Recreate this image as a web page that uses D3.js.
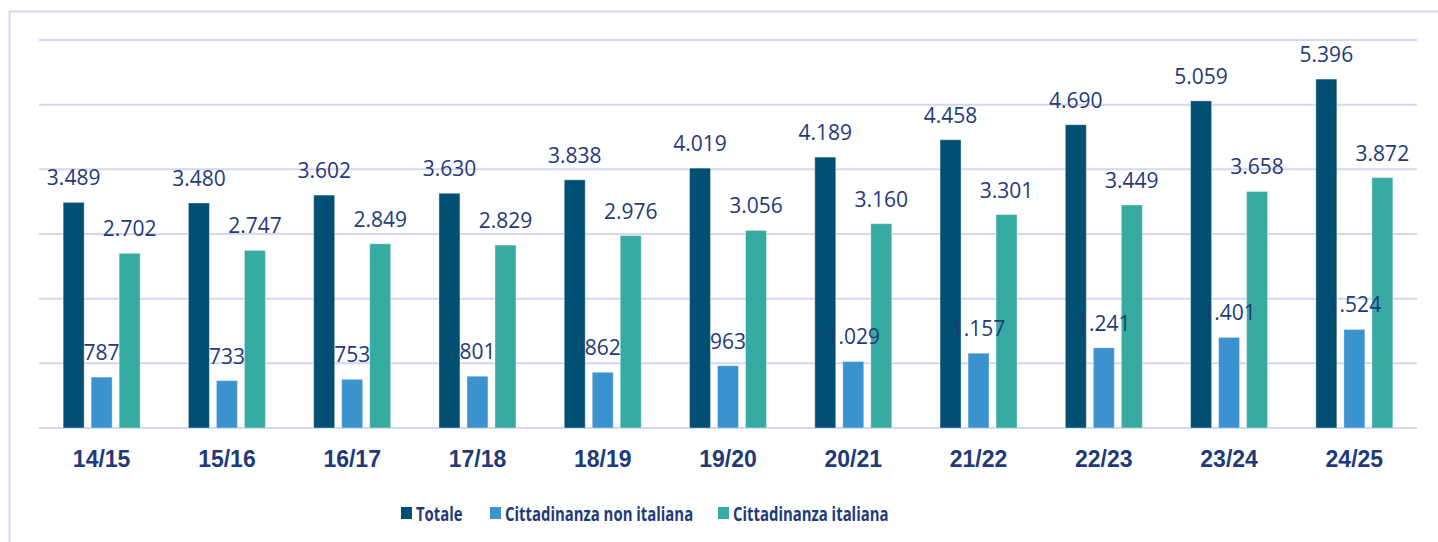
<!DOCTYPE html>
<meta charset="utf-8">
<style>
body { margin: 0; background: #fff; }
svg { display: block; font-family: "Open Sans", "Noto Sans", sans-serif; }
.grid line { stroke: #d8d5f0; stroke-width: 2; }
.val { fill: #1f3a7a; font-size: 21px; text-anchor: middle; }
.cat { fill: #1f3a7a; font-size: 23px; font-weight: bold; text-anchor: middle; }
.leg { fill: #1f3a7a; font-size: 20px; font-weight: bold; }
</style>
<svg width="1438" height="542"></svg>
<script src="https://cdnjs.cloudflare.com/ajax/libs/d3/7.8.5/d3.min.js"></script>
<script>

var anni = ["14/15", "15/16", "16/17", "17/18", "18/19", "19/20", "20/21", "21/22", "22/23", "23/24", "24/25"];
var serie = ["Totale", "Cittadinanza non italiana", "Cittadinanza italiana"];
var colori = ["#014f72", "#3a92cf", "#35aba1"];
var totale = [3489, 3480, 3602, 3630, 3838, 4019, 4189, 4458, 4690, 5059, 5396];
var nonItaliana = [787, 733, 753, 801, 862, 963, 1029, 1157, 1241, 1401, 1524];
var italiana = [2702, 2747, 2849, 2829, 2976, 3056, 3160, 3301, 3449, 3658, 3872];
var yTicks = [0, 1000, 2000, 3000, 4000, 5000, 6000];

var valori = [totale, nonItaliana, italiana];
var data = anni.map(function(a, i) {
  return { anno: a, vals: serie.map(function(s, j) { return { s: s, v: valori[j][i] }; }) };
});

var svg = d3.select("svg");
var fmt = d3.formatLocale({ decimal: ",", thousands: ".", grouping: [3], currency: ["", "€"] }).format(",");

// cornice esterna
svg.append("path")
  .attr("d", "M9.5,542 V11.5 H1438")
  .attr("fill", "none")
  .attr("stroke", "#d6d4f2")
  .attr("stroke-width", 2);

var x0 = d3.scaleBand().domain(anni).range([39, 1417]).padding(0);
var grp = 77;
var x1 = d3.scaleBand().domain(serie)
  .range([x0.bandwidth() / 2 - grp / 2, x0.bandwidth() / 2 + grp / 2])
  .paddingInner(0.25).paddingOuter(0);
var y = d3.scaleLinear().domain([0, 6000]).range([428, 40]);
var color = d3.scaleOrdinal().domain(serie).range(colori);

svg.append("g").attr("class", "grid")
  .selectAll("line").data(yTicks).enter().append("line")
  .attr("x1", 39).attr("x2", 1417)
  .attr("y1", function(d) { return y(d); })
  .attr("y2", function(d) { return y(d); });

var g = svg.selectAll(".gruppo").data(data).enter().append("g")
  .attr("class", "gruppo")
  .attr("transform", function(d) { return "translate(" + x0(d.anno) + ",0)"; });

g.selectAll("rect").data(function(d) { return d.vals; }).enter().append("rect")
  .attr("x", function(d) { return x1(d.s); })
  .attr("y", function(d) { return y(d.v); })
  .attr("width", x1.bandwidth())
  .attr("height", function(d) { return y(0) - y(d.v); })
  .attr("fill", function(d) { return color(d.s); })
  .attr("stroke", "#ffffff")
  .attr("stroke-opacity", 0.4)
  .attr("stroke-width", 1);

g.selectAll("text").data(function(d) { return d.vals; }).enter().append("text")
  .attr("class", "val")
  .attr("x", function(d) { return x1(d.s) + x1.bandwidth() / 2; })
  .attr("y", function(d) { return y(d.v) - 17; })
  .text(function(d) { return fmt(d.v); });

svg.append("g")
  .attr("transform", "translate(0,428)")
  .call(d3.axisBottom(x0).tickSize(0).tickPadding(0))
  .call(function(a) { a.select(".domain").remove(); })
  .selectAll("text")
  .attr("class", "cat")
  .attr("y", 39)
  .attr("dy", 0)
  .attr("font-family", null)
  .attr("font-size", null)
  .attr("fill", null);

// legenda (testo stretto orizzontalmente, come un carattere condensato)
var legX = [401, 490, 718];
var leg = svg.selectAll(".legItem").data(serie).enter().append("g")
  .attr("class", "legItem")
  .attr("transform", function(d, i) { return "translate(" + legX[i] + ",507)"; });
leg.append("rect").attr("width", 11).attr("height", 12)
  .attr("fill", function(d) { return color(d); });
leg.append("text").attr("class", "leg")
  .attr("transform", "translate(15,13.5) scale(0.745,1)")
  .text(function(d) { return d; });

</script>
